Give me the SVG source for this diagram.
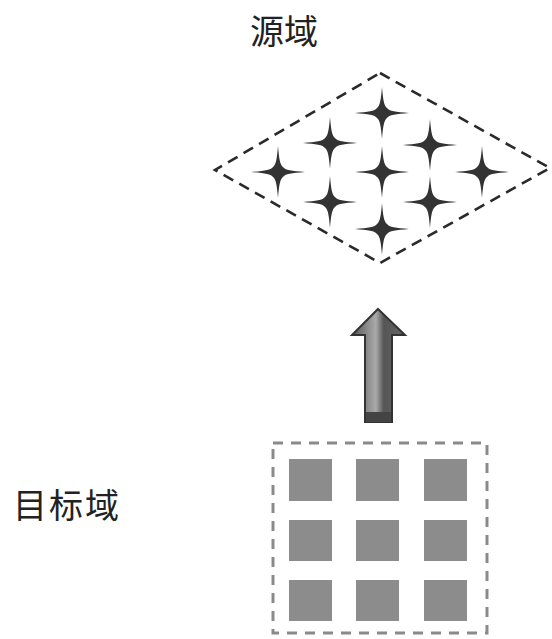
<svg xmlns="http://www.w3.org/2000/svg" width="552" height="639" viewBox="0 0 552 639">
<defs>
<style>
.lbl{font-family:"Noto Sans CJK SC","Liberation Serif",serif;font-size:34px;fill:#222}
.dia{fill:none;stroke:#2a2a2a;stroke-width:2.6;stroke-dasharray:11 7}
.box{fill:none;stroke:#8a8a8a;stroke-width:3;stroke-dasharray:10 8}
.sq{fill:#8c8c8c}
.st{fill:#333}
</style>
<path id="star" d="M0,-26 C1,-14 2,-7 5,-5 C7,-2 14,-1 27,0 C14,1 7,2 5,5 C2,7 1,14 0,26 C-1,14 -2,7 -5,5 C-7,2 -14,1 -27,0 C-14,-1 -7,-2 -5,-5 C-2,-7 -1,-14 0,-26Z"/>
<linearGradient id="ag" x1="0" y1="0" x2="1" y2="0">
<stop offset="0" stop-color="#555"/>
<stop offset="0.45" stop-color="#aaa"/>
<stop offset="0.6" stop-color="#555"/>
<stop offset="1" stop-color="#666"/>
</linearGradient>
</defs>
<rect width="552" height="639" fill="#fff"/>
<g id="source">
<text class="lbl" x="250" y="44">源域</text>
<polygon class="dia" points="380,73 550,168 380,263 215,170"/>
<g class="st">
<use href="#star" x="382" y="113"/>
<use href="#star" x="330" y="143"/>
<use href="#star" x="430" y="145"/>
<use href="#star" x="278" y="172"/>
<use href="#star" x="382" y="172"/>
<use href="#star" x="482" y="172"/>
<use href="#star" x="330" y="202"/>
<use href="#star" x="430" y="202"/>
<use href="#star" x="382" y="229"/>
</g>
</g>
<g id="connectors">
<polygon points="378,309 405,335 392,335 392,422 365,422 365,335 352,335" fill="url(#ag)" stroke="#333" stroke-width="2"/>
<rect x="366" y="412" width="25" height="10" fill="#444"/>
</g>
<g id="target">
<text class="lbl" x="13" y="518" letter-spacing="2">目标域</text>
<rect class="box" x="273" y="443" width="214" height="190"/>
<rect class="sq" x="289" y="459" width="43" height="42"/>
<rect class="sq" x="356" y="459" width="43" height="42"/>
<rect class="sq" x="424" y="459" width="43" height="42"/>
<rect class="sq" x="289" y="520" width="43" height="41"/>
<rect class="sq" x="356" y="520" width="43" height="41"/>
<rect class="sq" x="424" y="520" width="43" height="41"/>
<rect class="sq" x="289" y="580" width="43" height="41"/>
<rect class="sq" x="356" y="580" width="43" height="41"/>
<rect class="sq" x="424" y="580" width="43" height="41"/>
</g>
</svg>
